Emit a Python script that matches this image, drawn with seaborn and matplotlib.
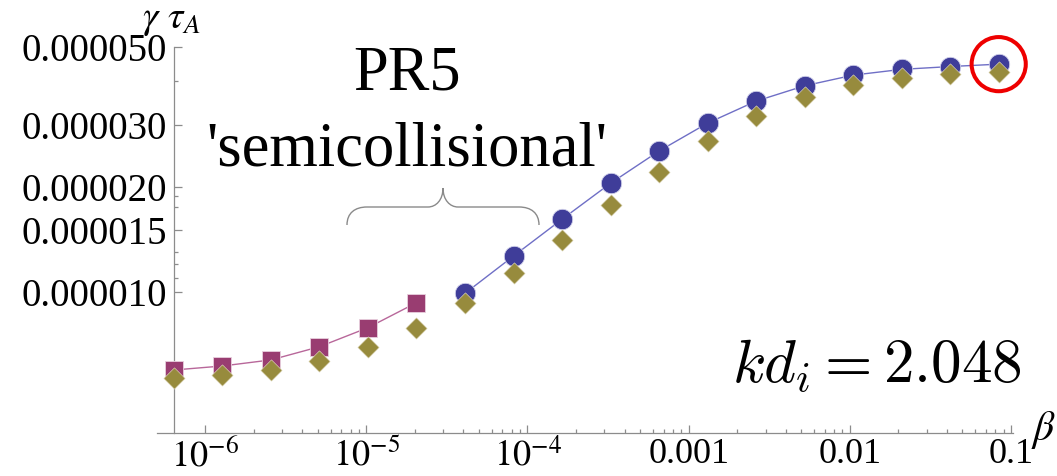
import numpy as np
import pandas as pd
import matplotlib
matplotlib.use("Agg")
import matplotlib.pyplot as plt
import seaborn as sns
from matplotlib.path import Path
from matplotlib.patches import PathPatch
from matplotlib.ticker import FixedLocator, FixedFormatter, NullFormatter
from matplotlib import font_manager as fm

# ---------------- data ----------------
beta = [6.4e-7, 1.28e-6, 2.56e-6, 5.12e-6, 1.024e-5, 2.048e-5,
        4.096e-5, 8.192e-5, 1.6384e-4, 3.2768e-4, 6.5536e-4, 1.31072e-3,
        2.62144e-3, 5.24288e-3, 1.048576e-2, 2.097152e-2, 4.194304e-2, 8.388608e-2]

beta_semicoll = beta[:6]
gamma_semicoll = [6.01e-6, 6.17e-6, 6.42e-6, 7.00e-6, 7.93e-6, 9.34e-6]

beta_coll = beta[6:]
gamma_coll = [9.93e-6, 1.268e-5, 1.614e-5, 2.043e-5, 2.524e-5, 3.03e-5,
              3.50e-5, 3.87e-5, 4.15e-5, 4.31e-5, 4.39e-5, 4.46e-5]

gamma_diamond = [5.69e-6, 5.81e-6, 6.01e-6, 6.37e-6, 7.00e-6, 7.93e-6,
                 9.34e-6, 1.137e-5, 1.409e-5, 1.772e-5, 2.204e-5, 2.70e-5,
                 3.17e-5, 3.59e-5, 3.88e-5, 4.08e-5, 4.18e-5, 4.24e-5]

y_major = [1.0e-5, 1.5e-5, 2.0e-5, 3.0e-5, 5.0e-5]
y_major_labels = ["0.000010", "0.000015", "0.000020", "0.000030", "0.000050"]
y_minor = [1.1e-5, 1.2e-5, 1.3e-5, 1.75e-5, 1.875e-5, 4.0e-5]

x_major = [1e-6, 1e-5, 1e-4, 1e-3, 1e-2, 1e-1]
x_major_labels = [r"$10^{-6}$", r"$10^{-5}$", r"$10^{-4}$", "0.001", "0.01", "0.1"]

# ---------------- style ----------------
sns.set_style("white")
plt.rcParams['font.family'] = 'serif'
plt.rcParams['font.serif'] = ['Liberation Serif', 'DejaVu Serif']
plt.rcParams['mathtext.fontset'] = 'stix'
plt.rcParams['text.color'] = 'black'
plt.rcParams['xtick.color'] = 'black'
plt.rcParams['ytick.color'] = 'black'


def serif(size):
    try:
        path = fm.findfont(fm.FontProperties(family='Liberation Serif'))
        return fm.FontProperties(fname=path, size=size)
    except Exception:
        return fm.FontProperties(family='serif', size=size)


W, H = 1057, 476
fig = plt.figure(figsize=(W / 100, H / 100), dpi=100)
ax = fig.add_axes([157 / W, 43.3 / H, 856 / W, 386 / H])
ax.set_xscale('log')
ax.set_yscale('log')

c_blue = "#3F3D99"
c_purple = "#993D71"
c_olive = "#978B3D"
c_line_blue = "#6F6FC6"
c_line_purple = "#B8679A"
axis_gray = "#8C8C8C"

df_s = pd.DataFrame({"beta": beta_semicoll, "gamma": gamma_semicoll})
df_c = pd.DataFrame({"beta": beta_coll, "gamma": gamma_coll})
df_d = pd.DataFrame({"beta": beta, "gamma": gamma_diamond})

sns.lineplot(data=df_s, x="beta", y="gamma", ax=ax, color=c_line_purple,
             linewidth=1.0, estimator=None, sort=False, zorder=2)
sns.lineplot(data=df_c, x="beta", y="gamma", ax=ax, color=c_line_blue,
             linewidth=1.0, estimator=None, sort=False, zorder=2)
sns.scatterplot(data=df_s, x="beta", y="gamma", ax=ax, marker="s", s=160,
                color=c_purple, edgecolor="#E8D0DE", linewidth=0.6, zorder=3)
sns.scatterplot(data=df_c, x="beta", y="gamma", ax=ax, marker="o", s=215,
                color=c_blue, edgecolor="#D0D0EA", linewidth=0.6, zorder=3)
sns.scatterplot(data=df_d, x="beta", y="gamma", ax=ax, marker="D", s=118,
                color=c_olive, edgecolor="#E6E0C8", linewidth=0.4, zorder=4)
# red highlight circle around the last point
sns.scatterplot(x=[beta_coll[-1]], y=[gamma_coll[-1]], ax=ax, marker="o",
                s=1520, facecolor="none", edgecolor="#EE0000", linewidth=2.9, zorder=5)
for coll in ax.collections:
    coll.set_clip_on(False)

ax.set_xlim(5.03e-7, 0.1029)
ax.set_ylim(3.985e-6, 5.0e-5)

# axes styling (Mathematica-like)
for s in ["top", "right"]:
    ax.spines[s].set_visible(False)
ax.spines["left"].set_position(("data", beta[0]))
for s in ["left", "bottom"]:
    ax.spines[s].set_color(axis_gray)
    ax.spines[s].set_linewidth(0.9)

ax.yaxis.set_major_locator(FixedLocator(y_major))
ax.yaxis.set_major_formatter(FixedFormatter(y_major_labels))
ax.yaxis.set_minor_locator(FixedLocator(y_minor))
ax.yaxis.set_minor_formatter(NullFormatter())

x_minor = [m * 10.0 ** e for e in range(-6, -1) for m in range(2, 10)]
ax.xaxis.set_major_locator(FixedLocator(x_major))
ax.xaxis.set_major_formatter(FixedFormatter(x_major_labels))
ax.xaxis.set_minor_locator(FixedLocator(x_minor))
ax.xaxis.set_minor_formatter(NullFormatter())

ax.tick_params(axis="both", which="both", direction="in", color=axis_gray,
               width=0.9, labelcolor="black", left=True, bottom=True)
ax.tick_params(axis="both", which="major", length=5.8)
ax.tick_params(axis="both", which="minor", length=2.9)
ax.tick_params(axis="y", which="major", pad=5)
ax.tick_params(axis="x", which="major", pad=4)
for lab in ax.get_yticklabels():
    lab.set_fontproperties(serif(28))
    lab.set_color("black")
for lab in ax.get_xticklabels():
    lab.set_fontproperties(serif(26))
    lab.set_color("black")
ax.set_xlabel("")
ax.set_ylabel("")
ax.grid(False)

# axis labels
fig.text(171 / W, 1 - 28 / H, r"$\gamma\ \tau_A$", fontsize=28,
         ha="center", va="baseline", color="black")
fig.text(1044 / W, 1 - 430 / H, r"$\beta$", fontsize=30, ha="center", va="center",
         color="black")

# annotations
fig.text(407 / W, 1 - 89.3 / H, "PR5", fontproperties=serif(45), ha="center",
         va="baseline", color="black")
fig.text(407 / W, 1 - 165 / H, "'semicollisional'", fontproperties=serif(45),
         ha="center", va="baseline", color="black")
fig.text(1022 / W, 1 - 382 / H, r"$kd_i = 2.048$", fontsize=44,
         ha="right", va="baseline", math_fontfamily="cm", color="black")

# curly brace
pts_px = [(347, 225), (347, 213), (355, 207), (367, 207),
          (428, 207),
          (436, 207), (443, 200), (443, 188),
          (443, 200), (450, 207), (458, 207),
          (519, 207),
          (531, 207), (539, 213), (539, 225)]
codes = [Path.MOVETO, Path.CURVE4, Path.CURVE4, Path.CURVE4,
         Path.LINETO,
         Path.CURVE4, Path.CURVE4, Path.CURVE4,
         Path.CURVE4, Path.CURVE4, Path.CURVE4,
         Path.LINETO,
         Path.CURVE4, Path.CURVE4, Path.CURVE4]
verts = [(px / W, 1 - py / H) for px, py in pts_px]
brace = PathPatch(Path(verts, codes), transform=fig.transFigure,
                  facecolor="none", edgecolor="#8A8A8A", linewidth=1.0)
fig.patches.append(brace)

fig.savefig("out.png", dpi=100)
